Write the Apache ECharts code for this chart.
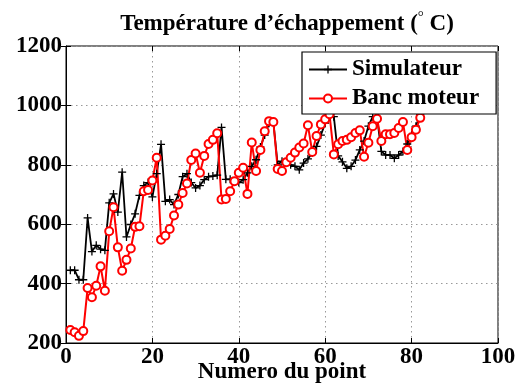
<!DOCTYPE html>
<html>
<head>
<meta charset="utf-8">
<script src="https://cdn.jsdelivr.net/npm/echarts@6/dist/echarts.min.js"></script>
<style>html,body{margin:0;padding:0;background:#fff}#c{width:525px;height:387px}</style>
</head>
<body>
<div id="c"></div>
<script>
const titleText = 'Température d’échappement (';
const xAxisName = 'Numero du point';
const seriesNames = ['Simulateur', 'Banc moteur'];
const xTicks = [0, 20, 40, 60, 80, 100];
const yTicks = [200, 400, 600, 800, 1000, 1200];

const simulateur = [445,445,413,413,621,508,529,516,512,672,702,641,775,557,599,635,697,730,740,692,
  770,869,677,683,666,700,760,770,740,722,730,750,760,762,765,926,751,751,745,740,
  750,773,795,817,860,900,940,945,800,812,809,800,795,783,806,820,840,862,900,940,
  962,962,830,810,788,795,816,850,880,930,962,960,845,833,833,822,833,845,870,900,
  930,970,1010,1040];
const bancMoteur = [244,236,224,240,385,354,393,458,376,576,657,522,443,480,518,591,593,711,715,747,
  824,548,561,584,629,666,705,737,816,838,773,830,870,884,906,683,685,711,745,773,
  790,702,875,779,850,913,947,944,786,779,809,824,841,858,872,933,843,897,936,953,
  970,835,869,880,884,893,907,916,827,874,930,955,880,903,903,907,924,944,850,893,
  918,958,1000,1030];

const toPairs = arr => arr.map((v, i) => [i + 1, v]);
const FONT = 'Liberation Serif';
const txt = {fontFamily: FONT, fontWeight: 'bold', fontSize: 23, color: '#000'};
const plus = 'path://M4.2,0H5.8V4.2H10V5.8H5.8V10H4.2V5.8H0V4.2H4.2Z';

const chart = echarts.init(document.getElementById('c'), null, {renderer: 'canvas'});
const xMin = xTicks[0], xMax = xTicks[xTicks.length - 1], xInt = xTicks[1] - xTicks[0];
const yMin = yTicks[0], yMax = yTicks[yTicks.length - 1], yInt = yTicks[1] - yTicks[0];
chart.setOption({
  animation: false,
  backgroundColor: '#fff',
  title: {
    text: '{a|' + titleText + '}{b|°}{a| C)}',
    left: 282, top: 5, textAlign: 'center',
    textStyle: {rich: {
      a: {fontFamily: FONT, fontWeight: 'bold', fontSize: 23, color: '#000'},
      b: {fontFamily: FONT, fontWeight: 'normal', fontSize: 15, color: '#000', verticalAlign: 'top', padding: [0, 0, 14, 0]}
    }}
  },
  grid: {left: 66, right: 27, top: 46, bottom: 44, show: true, borderColor: '#000', borderWidth: 1,
    containLabel: false, outerBoundsMode: 'none'},
  legend: {
    data: seriesNames,
    orient: 'vertical', left: 302, top: 52,
    padding: [4, 17, 2, 6], itemGap: 2, itemWidth: 38, itemHeight: 10,
    backgroundColor: '#fff', borderColor: '#000', borderWidth: 1.2,
    textStyle: Object.assign({lineHeight: 27}, txt)
  },
  xAxis: [{
    type: 'value', min: xMin, max: xMax, interval: xInt,
    name: xAxisName, nameLocation: 'middle', nameGap: 18, nameMoveOverlap: false, nameTextStyle: txt,
    axisLine: {lineStyle: {color: '#000', width: 1}},
    axisTick: {inside: true, length: 5, lineStyle: {color: '#000'}},
    axisLabel: Object.assign({margin: 3, formatter: v => String(v)}, txt),
    splitLine: {show: true, lineStyle: {color: '#999', type: [1.5, 3.5], width: 1}}
  }, {
    type: 'value', position: 'top', min: xMin, max: xMax, interval: xInt,
    axisLine: {show: false}, axisTick: {inside: true, length: 5, lineStyle: {color: '#000'}},
    axisLabel: {show: false}, splitLine: {show: false}
  }],
  yAxis: [{
    type: 'value', min: yMin, max: yMax, interval: yInt,
    axisLine: {show: true, lineStyle: {color: '#000', width: 1}},
    axisTick: {show: true, inside: true, length: 5, lineStyle: {color: '#000'}},
    axisLabel: Object.assign({margin: 4, formatter: v => String(v)}, txt),
    splitLine: {show: true, lineStyle: {color: '#999', type: [1.5, 3.5], width: 1}}
  }, {
    type: 'value', position: 'right', min: yMin, max: yMax, interval: yInt,
    axisLine: {show: false}, axisTick: {show: true, inside: true, length: 5, lineStyle: {color: '#000'}},
    axisLabel: {show: false}, splitLine: {show: false}
  }],
  series: [{
    name: seriesNames[0], type: 'line', data: toPairs(simulateur),
    symbol: plus, symbolSize: 8, showAllSymbol: true,
    lineStyle: {color: '#000', width: 1.8},
    itemStyle: {color: '#000'}
  }, {
    name: seriesNames[1], type: 'line', data: toPairs(bancMoteur),
    symbol: 'emptyCircle', symbolSize: 8, showAllSymbol: true,
    lineStyle: {color: '#ff0000', width: 2},
    itemStyle: {color: '#ff0000', borderColor: '#ff0000', borderWidth: 1.6}
  }]
});
</script>
</body>
</html>
